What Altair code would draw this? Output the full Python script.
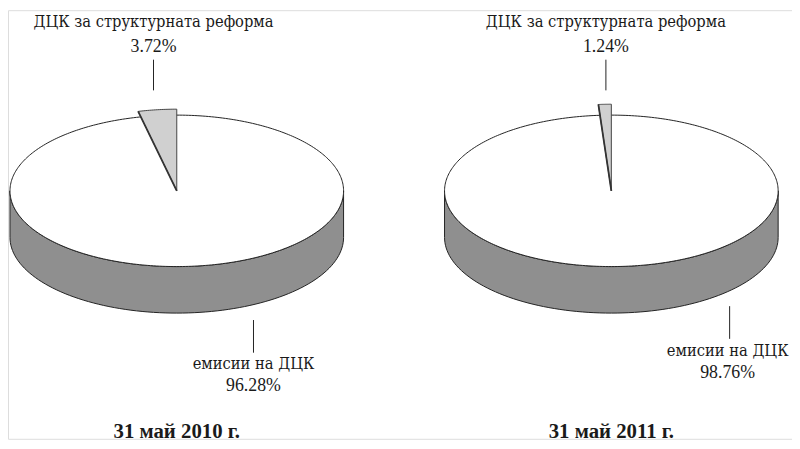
import altair as alt
import pandas as pd

# ---- data ----
dates = ["31 май 2010 г.", "31 май  2011 г."]
reform_share = [3.72, 1.24]       # ДЦК за структурната реформа, %
emission_share = [96.28, 98.76]   # емисии на ДЦК, %
slice_names = ["ДЦК за структурната реформа", "емисии на ДЦК"]

# ---- layout (page pixels) ----
CX = [178.5, 617.5]
CY, RX, RY, DEPTH = 190.5, 168.5, 76.5, 47
EXPLODE = [6, 11]
TOP_LABEL_X = [155, 612]
BOTTOM_LEADER_X = [256, 737]
BOTTOM_LABEL_X = [256, 735]
BOTTOM_LEADER = [(321, 354), (307, 340)]
BOTTOM_NAME_Y = [370, 357]
BOTTOM_PCT_Y = [393, 380]
DATE_Y = [440, 440]
CYR_FONT = "DejaVu Serif Condensed"
NUM_FONT = "Liberation Serif"

pies = pd.DataFrame({
    "pie": [0, 1],
    "cx": CX,
    "ex": EXPLODE,
    "reform": reform_share,
    "emission": emission_share,
    "date": dates,
})

xs = alt.Scale(domain=[8, 800], nice=False, zero=False)
ys = alt.Scale(domain=[8, 441], reverse=True, nice=False, zero=False)
X = alt.X("x:Q", scale=xs, axis=None)
Y = alt.Y("y:Q", scale=ys, axis=None)

base = alt.Chart(pies)

side = base.transform_calculate(
    t="sequence(0, 181, 2)"
).transform_flatten(["t"]).transform_calculate(
    x=f"datum.cx + {RX}*cos(datum.t*PI/180)",
    y=f"{CY} + {RY}*sin(datum.t*PI/180)",
    y2=f"{CY} + {RY}*sin(datum.t*PI/180) + {DEPTH}",
).mark_area(fill="#8f8f8f", stroke="#222222", strokeWidth=1).encode(
    x=X, y=Y, y2="y2:Q", detail="pie:N"
)

top = base.transform_calculate(
    t="sequence(0, 181, 1)"
).transform_flatten(["t"]).transform_calculate(
    x=f"datum.cx + {RX}*cos(datum.t*PI/180)",
    y=f"{CY} - {RY}*sin(datum.t*PI/180)",
    y2=f"{CY} + {RY}*sin(datum.t*PI/180)",
).mark_area(fill="white", stroke="#222222", strokeWidth=1).encode(
    x=X, y=Y, y2="y2:Q", detail="pie:N"
)

wedge_base = base.transform_calculate(
    ang="datum.reform/100*2*PI",
    xl=f"datum.cx + {RX}*cos(PI/2 + datum.ang)",
    yl=f"{CY} - ({RY} + datum.ex)*sin(PI/2 + datum.ang)",
    y0=f"{CY}",
)

wedge = wedge_base.transform_calculate(
    i="sequence(0, 21, 1)"
).transform_flatten(["i"]).transform_calculate(
    th="PI/2 + datum.i/20*datum.ang",
    x=f"datum.cx + {RX}*cos(datum.th)",
    y=f"{CY} - ({RY} + datum.ex)*sin(datum.th)",
    y2=f"{CY} + (datum.x - datum.cx)*(datum.yl - {CY})/(datum.xl - datum.cx)",
).mark_area(fill="#d0d0d0", stroke="#444444", strokeWidth=1).encode(
    x=X, y=Y, y2="y2:Q", detail="pie:N"
)

wedge_edge = wedge_base.mark_rule(color="#333333", strokeWidth=1.8).encode(
    x=alt.X("cx:Q", scale=xs, axis=None), y=alt.Y("y0:Q", scale=ys, axis=None),
    x2="xl:Q", y2="yl:Q"
)

# ---- labels ----
name_rows, pct_rows = [], []
for i in range(2):
    name_rows.append({"text": slice_names[0], "x": TOP_LABEL_X[i], "y": 25})
    pct_rows.append({"text": f"{reform_share[i]:.2f}%", "x": TOP_LABEL_X[i], "y": 50})
    name_rows.append({"text": slice_names[1], "x": BOTTOM_LABEL_X[i], "y": BOTTOM_NAME_Y[i]})
    pct_rows.append({"text": f"{emission_share[i]:.2f}%", "x": BOTTOM_LABEL_X[i], "y": BOTTOM_PCT_Y[i]})

leaders = pd.DataFrame({
    "x": TOP_LABEL_X + BOTTOM_LEADER_X,
    "y": [58, 58] + [b[0] for b in BOTTOM_LEADER],
    "y2": [89, 89] + [b[1] for b in BOTTOM_LEADER],
})

name_text = alt.Chart(pd.DataFrame(name_rows)).mark_text(
    font=CYR_FONT, fontSize=16.5, color="#1a1a1a", baseline="alphabetic", align="center"
).encode(x=X, y=Y, text="text:N")

pct_text = alt.Chart(pd.DataFrame(pct_rows)).mark_text(
    font=NUM_FONT, fontSize=18, color="#1a1a1a", baseline="alphabetic", align="center"
).encode(x=X, y=Y, text="text:N")

leader_rules = alt.Chart(leaders).mark_rule(color="#222222", strokeWidth=1).encode(
    x=X, y=Y, y2="y2:Q"
)

date_df = pd.DataFrame({"text": dates, "x": CX, "y": DATE_Y})
date_text = alt.Chart(date_df).mark_text(
    font=NUM_FONT, fontSize=21, fontWeight="bold", color="#1a1a1a",
    baseline="alphabetic", align="center"
).encode(x=X, y=Y, text="text:N")

chart = alt.layer(
    side, top, wedge, wedge_edge, leader_rules, name_text, pct_text, date_text
).properties(
    width=792, height=433, padding=0, autosize=alt.AutoSizeParams(type="none")
).configure_view(stroke=None).configure(background="white")

chart.save("out.html", embed_options={"renderer": "svg", "actions": False})
